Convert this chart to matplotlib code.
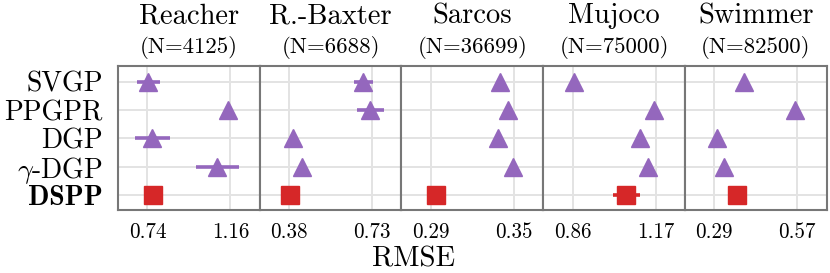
import matplotlib
matplotlib.use("Agg")
import matplotlib.pyplot as plt

plt.rcParams['font.family'] = ['cmr10', 'DejaVu Serif']
plt.rcParams['mathtext.fontset'] = 'cm'
plt.rcParams['axes.formatter.use_mathtext'] = True

datasets = ['Reacher', 'R.-Baxter', 'Sarcos', 'Mujoco', 'Swimmer']
sizes = [4125, 6688, 36699, 75000, 82500]
methods = ['SVGP', 'PPGPR', 'DGP', r'$\gamma$-DGP', 'DSPP']

# mean RMSE per dataset, order: SVGP, PPGPR, DGP, gamma-DGP, DSPP
reacher_mean = [0.745, 1.150, 0.764, 1.093, 0.770]
baxter_mean = [0.693, 0.723, 0.398, 0.433, 0.384]
sarcos_mean = [0.3399, 0.3459, 0.3383, 0.3495, 0.2938]
mujoco_mean = [0.864, 1.164, 1.110, 1.142, 1.061]
swimmer_mean = [0.390, 0.561, 0.298, 0.324, 0.366]

reacher_err = [0.059, 0.010, 0.088, 0.109, 0.010]
baxter_err = [0.040, 0.056, 0.008, 0.008, 0.008]
sarcos_err = [0.001, 0.001, 0.001, 0.001, 0.001]
mujoco_err = [0.010, 0.010, 0.010, 0.010, 0.051]
swimmer_err = [0.008, 0.008, 0.008, 0.008, 0.008]

reacher_ticks = [0.74, 1.16]
baxter_ticks = [0.38, 0.73]
sarcos_ticks = [0.29, 0.35]
mujoco_ticks = [0.86, 1.17]
swimmer_ticks = [0.29, 0.57]

means = [reacher_mean, baxter_mean, sarcos_mean, mujoco_mean, swimmer_mean]
errs = [reacher_err, baxter_err, sarcos_err, mujoco_err, swimmer_err]
ticks = [reacher_ticks, baxter_ticks, sarcos_ticks, mujoco_ticks, swimmer_ticks]

purple = '#9467bd'
red = '#d62728'

fig, axes = plt.subplots(1, 5, figsize=(8.3, 2.73), dpi=100, sharey=True)
fig.subplots_adjust(left=0.1422, right=0.996, top=0.758, bottom=0.2308, wspace=0)

ypos = list(range(len(methods)))
for i, ax in enumerate(axes):
    m = means[i]
    e = errs[i]
    ax.errorbar(m[:4], ypos[:4], xerr=e[:4], fmt='^', color=purple, ms=12.5,
                elinewidth=2.6, capsize=0, mec=purple, zorder=3)
    ax.errorbar([m[4]], [ypos[4]], xerr=[e[4]], fmt='s', color=red, ms=13.5,
                elinewidth=2.6, capsize=0, mec=red, zorder=3)
    t0, t1 = ticks[i]
    d = t1 - t0
    ax.set_xlim(t0 - 0.354 * d, t1 + 0.354 * d)
    ax.set_xticks(ticks[i])
    ax.set_xticklabels(['%.2f' % t for t in ticks[i]], fontsize=15.2)
    ax.set_ylim(4.52, -0.55)
    ax.set_yticks(ypos)
    ax.grid(True, color='#e3e3e3', lw=1.4)
    ax.set_axisbelow(True)
    for s in ax.spines.values():
        s.set_color('#777777')
        s.set_linewidth(1.5)
    ax.tick_params(axis='x', length=0, pad=9)
    ax.tick_params(axis='y', length=0, pad=11)
    ax.text(0.5, 1.297, datasets[i], transform=ax.transAxes, ha='center',
            va='baseline', fontsize=20.5)
    ax.text(0.5, 1.088, '(N=%d)' % sizes[i], transform=ax.transAxes, ha='center',
            va='baseline', fontsize=16.4)

axes[0].set_yticklabels(methods, fontsize=20)
lbls = axes[0].get_yticklabels()
lbls[4].set_fontfamily('cmb10')

fig.text(0.498, 0.022, 'RMSE', ha='center', va='baseline', fontsize=20.7)

fig.savefig('out.png', dpi=100)
